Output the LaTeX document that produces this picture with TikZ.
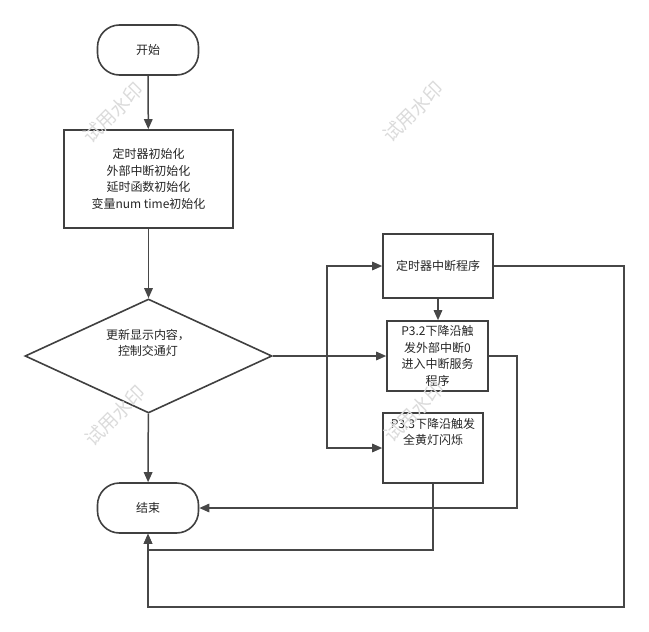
\documentclass[tikz,border=0pt]{standalone}
\usepackage{fontspec}
\setmainfont{Noto Sans CJK SC}
\usetikzlibrary{arrows.meta,shapes.geometric}

\begin{document}
\begin{tikzpicture}[x=1pt,y=-1pt,
  box/.style={draw=black!75,line width=1.6pt,fill=white,inner sep=0pt,
    font=\fontsize{12}{16.5}\selectfont,text=black!85,align=center},
  term/.style={box,rounded corners=22pt,minimum width=101pt,minimum height=50pt},
  proc/.style={box,rectangle},
  decision/.style={box,diamond,minimum width=247pt,minimum height=114pt},
  txt/.style={font=\fontsize{12}{16.5}\selectfont,text=black!85,align=center,inner sep=0pt},
  link/.style={draw=black!72,line width=1.5pt},
  flow/.style={link,-{Triangle[length=10pt,width=8.5pt]}},
  wmark/.style={text=black!14,font=\fontsize{19}{19}\selectfont,rotate=45,inner sep=0pt}]
  \useasboundingbox (0,0) rectangle (649,632);

  % main column
  \node[term] (start) at (148,50) {开始};
  \node[proc,minimum width=169pt,minimum height=98pt] (init) at (148.5,179)
    {定时器初始化\\外部中断初始化\\延时函数初始化\\变量num time初始化};
  \node[decision] (update) at (148.5,356) {};
  \node[txt] (updatetxt) at (148,343) {更新显示内容，\\控制交通灯};
  \node[term] (finish) at (148,508) {结束};

  % interrupt routines
  \node[proc,minimum width=110pt,minimum height=64pt] (timer) at (438,266) {定时器中断程序};
  \node[proc,minimum width=101pt,minimum height=70pt] (ext0) at (437.5,356)
    {P3.2下降沿触\\发外部中断0\\进入中断服务\\程序};
  \node[proc,minimum width=100pt,minimum height=70pt] (ext1) at (433,448) {};
  \node[txt,anchor=north] (ext1txt) at (433,418) {P3.3下降沿触发\\全黄灯闪烁};

  \draw[flow] (start) -- (init);
  \draw[flow] (init) -- (update);
  \draw[flow] (update) -- (finish);

  \coordinate (split) at (327,356);
  \draw[link] (update.east) -- (split);
  \draw[flow] (split) -- (ext0.west);
  \draw[flow] (split) |- (timer.west);
  \draw[flow] (split) |- (ext1.west);
  \draw[flow] (timer.south) -- (timer.south |- ext0.north);

  % back to end
  \coordinate (loopa) at (624,607);
  \coordinate (loopb) at (517,508);
  \coordinate (loopc) at (433,550);
  \draw[flow] (timer.east) -| (loopa) -| (finish.south);
  \draw[flow] (ext0.east) -| (loopb) -- (finish.east);
  \draw[flow] (ext1.south) -- (loopc) -| (finish.south);

  % watermark
  \node[wmark] (wm1) at (113,113) {试用水印};
  \node[wmark] (wm2) at (413,112) {试用水印};
  \node[wmark] (wm3) at (115,416) {试用水印};
  \node[wmark] (wm4) at (414,412) {试用水印};
\end{tikzpicture}
\end{document}
